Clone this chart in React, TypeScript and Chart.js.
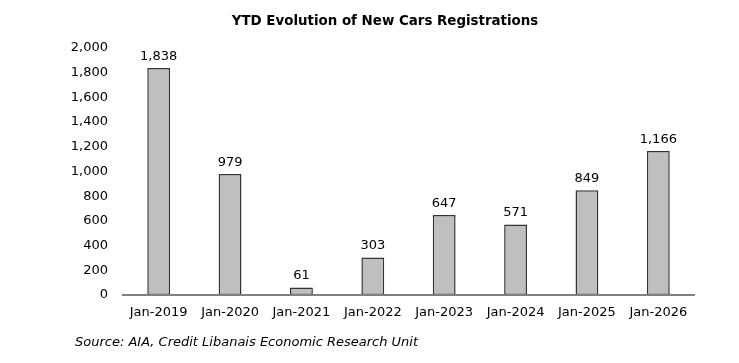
import React, { useEffect, useRef } from "react";
import { Chart, registerables } from "chart.js";

Chart.register(...registerables);

const categories = ["Jan-2019", "Jan-2020", "Jan-2021", "Jan-2022", "Jan-2023", "Jan-2024", "Jan-2025", "Jan-2026"];
const registrations = [1838, 979, 61, 303, 647, 571, 849, 1166];
const yTicks = [0, 200, 400, 600, 800, 1000, 1200, 1400, 1600, 1800, 2000];
const titleText = "YTD Evolution of New Cars Registrations";
const sourceText = "Source: AIA, Credit Libanais Economic Research Unit";

const FONT = "'DejaVu Sans', Verdana, sans-serif";

export default function App() {
  const ref = useRef<HTMLCanvasElement | null>(null);
  useEffect(() => {
    if (!ref.current) return;
    const textPlugin = {
      id: "texts",
      afterDraw(chart: any) {
        const ctx = chart.ctx;
        ctx.save();
        ctx.fillStyle = "#000";
        ctx.font = `bold 13.4px ${FONT}`;
        ctx.textAlign = "center";
        ctx.textBaseline = "middle";
        ctx.fillText(titleText, 385, 22);
        ctx.font = `italic 13px ${FONT}`;
        ctx.textAlign = "left";
        ctx.fillText(sourceText, 75, 343);
        // data labels
        ctx.font = `13px ${FONT}`;
        ctx.textAlign = "center";
        ctx.textBaseline = "bottom";
        const meta = chart.getDatasetMeta(0);
        meta.data.forEach((bar: any, i: number) => {
          ctx.fillText(registrations[i].toLocaleString("en-US"), bar.x, bar.y - 5);
        });
        ctx.restore();
      },
    };
    const chart = new Chart(ref.current, {
      type: "bar",
      data: {
        labels: categories,
        datasets: [
          {
            data: registrations,
            backgroundColor: "#bfbfbf",
            borderColor: "#333333",
            borderWidth: 1.5,
            borderSkipped: false,
            barPercentage: 0.32,
            categoryPercentage: 1,
          },
        ],
      },
      options: {
        animation: false,
        responsive: false,
        devicePixelRatio: 1,
        layout: { padding: { top: 48, left: 60, right: 45, bottom: 38 } },
        plugins: { legend: { display: false }, tooltip: { enabled: false } },
        scales: {
          x: {
            grid: { display: false, drawTicks: false },
            border: { display: true, color: "#808080", width: 2, z: 1 },
            ticks: { color: "#000", font: { family: FONT, size: 13 }, padding: 10, maxRotation: 0 },
            afterFit: (s: any) => { s.height = 30; },
          },
          y: {
            min: 0,
            max: 2000,
            afterBuildTicks: (s: any) => { s.ticks = yTicks.map((v) => ({ value: v })); },
            grid: { display: false, drawTicks: false },
            border: { display: false },
            ticks: {
              color: "#000",
              font: { family: FONT, size: 13 },
              padding: 15,
              callback: (v: any) => Number(v).toLocaleString("en-US"),
            },
            afterFit: (s: any) => { s.width = 63; },
          },
        },
      },
      plugins: [textPlugin],
    });
    return () => chart.destroy();
  }, []);
  return (
    <div style={{ position: "fixed", left: 0, top: 0, width: 739, height: 363, background: "#fff" }}>
      <canvas ref={ref} width={739} height={363} style={{ width: 739, height: 363 }} />
    </div>
  );
}
